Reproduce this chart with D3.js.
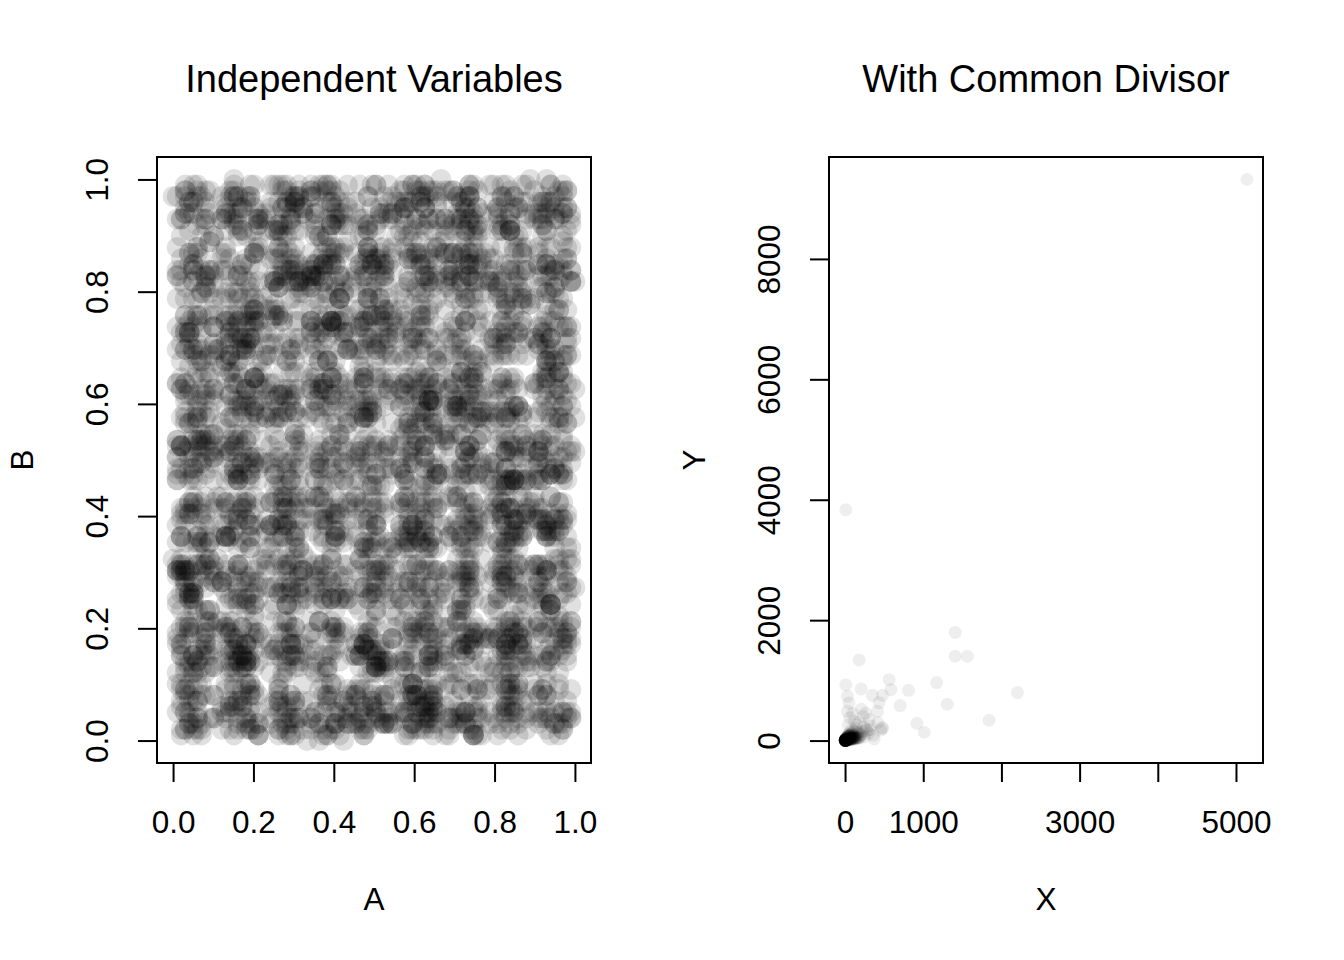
<!DOCTYPE html>
<html>
<head>
<meta charset="utf-8">
<script src="https://cdn.jsdelivr.net/npm/d3@7"></script>
<style>
  body { margin: 0; background: #fff; }
  svg { display: block; }
  text { font-family: "Liberation Sans", Arial, Helvetica, sans-serif; fill: #000; }
</style>
</head>
<body>
<svg id="chart" width="1344" height="960"></svg>
<script>
// ---------------- data ----------------
const panelTitles = ["Independent Variables", "With Common Divisor"];
const xLabels = ["A", "X"];
const yLabels = ["B", "Y"];

const leftXTicks = [0, 0.2, 0.4, 0.6, 0.8, 1.0];
const leftXTickLabels = ["0.0", "0.2", "0.4", "0.6", "0.8", "1.0"];
const leftYTicks = [0, 0.2, 0.4, 0.6, 0.8, 1.0];
const leftYTickLabels = ["0.0", "0.2", "0.4", "0.6", "0.8", "1.0"];

const rightXTicks = [0, 1000, 2000, 3000, 4000, 5000];
const rightXTickLabels = ["0", "1000", "", "3000", "", "5000"];
const rightYTicks = [0, 2000, 4000, 6000, 8000];
const rightYTickLabels = ["0", "2000", "4000", "6000", "8000"];

// Left panel: A and B values, written as two-digit hundredths (00 = 0, 99 = 1)
const A_hundredths = `
7305918264402871359061847329505816742093361850472916803574129658032417960583214776905813274682091735
1948273605583920174662817305948803716295544927108365127039485661924083757301865924468129037558392016
3390572814612847390550681937245873640129954718360223980716457781039462518052673914466380291757914203
8862014573930571648221749083656309187452219654830774928106351503849267183716509248997263104582061937
2409716385574823619047035891262219643875006187342959381470265544716092383106479152807326598413960285
6175302948891462037551028739466534890172214950768331827604591987065321440971836025162840973959718402
4826917035302715948668403127955193820467712864059302654918733078162594485921037466018395742213450968
9053148276611982740354207659183380574192664831902575219406837716938205441059732868204153979637140826
1368024957745910863220639481571986725304409317562855823049716602718459339264078151475923608693481072
5724691083208357416919462037588130496725567029314862915806347444851720963708392615029713684176259034
0489127563936251048766781390425523741869911564038279402785631688079231454162908373195480266817450293
6931570482175048269333815724960974269031582160398475542813706956427190835041762918603248579428061357
2257840193680419536721947362508836170592445903871625139806247471826305942615097843072369185064273981
7740259631849163072558206941739315729804623682451907651037924608847316152097361489435298016721830564
3016497825586273019441935076821759064382931047829561028756943324065918787129083465650834127993572140
8592036147230958147626407395182647381509264015693728483029715466915248073307651982414702639858326071
1673829405744092176389162508437352810697429826340751590764823161459830278243071956935619720848103562
4905716238068753109425736194082581904376153902672848162075309324718506694370821955092463817761540389
6248903571139610752884027365199907516248836259031478354102968745927431086615380724429816573000852619
9187265034576402981317863054291242387590615149236708863950724187032156947204619835671258043926715480
3520781946650396718271957402835168402793559671805243072419863988645217301394862057417036958226107394
7065143892281574906339046172851755862934077108926534643180752919753408162685729140133946758024518603
5839402716016283759447720618395339471580628851046937270852391406638174529910582736445063289127384956
0271659834793016548215846392074661059348327493085216186374925038502619473770316485928749063154620817
8416037295362758140931908542761078234915672046197385514873062922930765148606258913437581926405739261
2783950164945037218670679153482897163250431532860749186025974361174859203259408361726315840977046135
6108724359117849632052341078965643098176215978431026409751386284652038917081729354690463185272591408
4967281530683924057136815397402928450617393201685447936281504715089472631644751028390839172645806713
1354098762254016387946097621853782649103578869150237420631978550314269852297084613560427351989623047
9721436508830695214737164082539506318247951457693082162948715334891706426018452973817536280461094825
3892057146472810693550391846270281974356208604215837995107362843762905184162839750426950184273361908
5046318927109572648366825013794734612095873189364057221856439061508247963932670418559721063845120796
2619804735954381027693017942658167529038412745016398643289175503946278105581394620726403859172138564
8184573062226039518471659370248593104867295032756814097531284666081439752814062597393572108463921705
0753621849387164025935829163704112694857302968410526386104975248530796214397481052667214809365849317
6431970258512857304697105832649226085714396179524083548269713059173826405320967184821649530711058492
1967208543690314875223748961503767302519848052163790912473058634962145870182305679449081273615937460
7290385416148627953039615074283513907826645421079358803716249527650394812274918360638257194093621485
4513860792227395104886380169547941268035719038745216679254803182145983607615037294293806145750268937
3078149265961482507314927350681659704218330591648722046389157606731529048487290561355162903489742016
8251739064418027396552190847361390725846183649205714706158392446382917055219804637391582046671843950
2694081537705318264919847205632485102967341056327891620478359133928467105878032164595410726389241607
5120396847863941705228470163959362817504276019538642308165749701574928360491625087318604293757290318
9437260185328065193710394827562041873695119876430251849603127586216497308362058941745390216836504729
0786143592694213870537618290455703289614658327104936274059813612095834766420739185248371950640159273
3859602471051746839216903574288120467935742968315087561230498379461028554731890265609352174083786142
6013847529982570614381256097345649381027503182495764019872635584736102918850473261914265839077325840
1562937408467319582043795106231896054271638410927353207648915902183475066947518230347096125889614037
7428016935214053768992561480373407962158826794530147861352089457319684020675193248526018347531209864
4971625380680425931766732918450259864317095307416828640591732714692805341398205647780631592402758136
2305784196591862047348146305927760284319563571928406192348705668045139274120637958329716458044362917
8649017325136279580414579263081840563792271096358425530874169237216059843864125730956283071418597602
0194358627742983160575803196452617039248584735206197216083594849318602759602954831728741365093820465
6375820941298630574121974850366349287150134016298573851627049615084371926727309468152958640317204183
3526194078850471362989423705618196304258776582340913027495168634571908224916538074063079852146395071
9087436215263514908736091852474082765913448209657136971342806519840253677351829046284103679852014537
1749208356617032854998736140257928451063390564721879160482735207391864512548301967453862179034685920
5812064739384965120762659830418431709628527403168594281396057468059134726035798214690574281633917406
2468935107923187054681204579362795381046115970824368539072614359216480379681742053827461903548260193
7130659824056294713833946018757105832679462385197046087152349621473968105219537860483915406274178659
4693158702178043256979126350846357902418603916587245724168039281368549710540293186715294068378902514
0827346159652910487348502761938691730425857280316942316807954575403691827482960317559637201846152083
6350918247397426815010739582640428671539061548793215498326071893816742509625183740472058691340987256
1986457302841305769266214095837580493162723679014854012589736642957108346317492860581843072569136029
8214760395569837104247592813061136084957204726359183870416295251630487921698503172464092815736540718
3571092648025619387463028475913864257019568391427650913706428187542930165240816953728165374092986341
9046283715783150492671645972038529716304841230657896294518307436089217543781342695076519803246217059
2738514960416972803558391740652203548697125863014732587064193649751328064062978153406317958247319826
5183209674960341527897215068340871629354036497812554108329675813064527916285430761978924601537480342
0659841327237519086434680957213462093815790154263887361025479026915843708473621905182760349861527094
7392056418584627931016038475920795316284471930528632480571936185720439615019576283494317862053071468
4217693805120843576959716302848530471962638205917416952380743097248561324783195076128560347915263087
8560347129647192058332045869170186253940792346815105387264912764813095728236059814759402186373549201
1902586734385071649247961235083612098457516904728329641758036240375918462597143608284739510652086735
6748013925903264817561852097436970531824275613098442850316975183927460510613842795036571829406419853
3085762149721439605887413560928254978130363108457916927845031609582347186348016592783024961573501278
9613480572046852913730269148573429571603880217694352593016784875014623987192740356152837406928640315
5439127086358097261414826730595761038429029563817478140539621362709518443570619284836154092371728960
2176905348814236709558390427166087524913547602983161739048625204817356997286053412640397581523940687
8024631579467350918216105937485913628074732854091605382716940489126305734915872063379260418545012379
`;
const B_hundredths = `
5619372048813046295177529804136338014957626027341589944681027355093847162012746385938510274659832064
0834917526367209158445961327804172658039119483705267620591374845126083975230741968517496028356109478
9270563814240185736938713602945756391028478362094157315872460919604832751548209173663057194280314629
1456290837798324160567102958346023816574935947102863482957301658390276419874163052271509836477582031
6382701594155739048263946180573280495167326071823954019643875242857316082936570481794028163559462317
3047816259632198057416851374290597184623088423905176261907385431560492738816039275473286904155129683
8791540326049837621582307194658614295038716736480152947510962398821674039536082147965340187226493510
2513687049587016429363495802178130672849542598317604880369214753713495068210274836595461073988125436
7145029863341850792616928407351583907162439806253471270184596632485910327759163804821037925415806274
4698351720082763145998047362519041358627907324819065536812974015176924308381540739267692015348476921
0327964185716408253947715039862268193507414956281730924368150799831462507406519327813478065290153698
9581243076253019468280764185930479260814375631947206181593427862048139567595012743862719460358024173
6204817359830475921664839206157712584039693156840277042786159334920861375918650372417063298541829506
1873560249468914307523591078642359720486130378152469847615903227163854092236948071564081352977460318
5439072816027586193440275318964985316207472849063158360497182561530869247701348259636258197043920584
8062139574315740826998613057428741069253803618972405219037546899461732850053827146932706345981174269
2798416053980237541663479812056127380594265105638917385246091774089315426869150328475314962087733150
4150386927169248305735827064319068412537996481720354927163508342610497583116572930480649781325254097
7386205149521873940605013487266239857104183749201568604831972051795634218848390176253207148596316809
0924751368745630182971468203594381672950527016348936239105847698382750164471028369152895460317489243
6518097432107396258486254710938754031968269381520745791684203351549628073832706591426029374851163580
3247680195954201873161907532468420579316734795064128085372916547108392657610948235702563198074429861
8902364517382145906753748269103197426580523068149735614059287234869027315178253649081475602931680742
1675928304560318742917083594621506284739398724160583241967053878526134097954130826669308145276238015
5031478962217094536826951072843683570914256419386072937850146192043568712865473190254791630284506937
9462813057834562190730289614576217049356881307549261465382709135097821643308914625871546293017728490
2857034169691830257414736982505598216473032074693185802613594876413098527169527403812081756924343619
7109265384026479813557648019236941307582651492836057374098251628659247031480365197258235410976901483
3693517820815046972398210463597072683941544268015739197843605241307586194256802379146612785043389527
0481729653374912860545603971842859461370228501793645630849175296924170358617395208634597026184153972
6725840391928350471631074958263146289507381640573925810364729854071893625463218506797349685210437860
1348906275463728159027159836401780437619526954210378492376518069835106427394681053726801527943665198
8076531924219487306552630491785497038612743817694520076542138935362187049510749286341063892415758201
4251873609780632145986819523704324756180916730948251548931670226195720843868043197521439670582316947
9614027385135760928443952681047805129647320486371590621795348418530267914256794103865120483697372051
2837150946648921530797043859612689314705851293764084837061295572604815379319058246773658291043519684
5190643827906357481232891076354053782196464108937251150392864783571962408704623819594728160354870237
0563298714471862039584620537198136495802779625314086208431957665037849126538197405226194083756941308
7942183560532097614886075392481278910346235367148290593628710448163502975416025839170835746129092546
3418672095887043152697369128504650287139412573904618746015983231940685723087462519058479316205782194
3571849206192374580663058217497428693510254806139778120643952369451708230859627413084735196227465081
8094612573436289075150781942636017548392985237104661940357822715083964607412698355862013947120389654
1426983057872051396424690518731582746093061948527300375819642948605231777219483605963720158443176928
6731508294259387461080328741596463178950218765039245104827365390742168589052463917817640925330581746
4258067193706142839551974603828905472136693214087589217659403652938104761487305926340591628796103852
9803714265138452906734216059878143609527054362819037592806134171568924330629481573085473162091857349
2164895307684321750929503187640526891374917058263424638129570583426170951370648295917925360486412803
7590236418051796342875813604920361784925238649107562905416378848250391676017936254134568217093960574
0345178692926503814667421935083749820156450193728364781650293913947806526839405171268014395742589136
5817940326364285179042178653097210364859883567412095230974618625031498727481029365456097123840813652
3048562917710439568285936041725852940671361280759437145830926297863152040569274318817325609481672035
8612309754245867193039148276501487106329577039182645983216740436015798227506839415328491750662981407
1276845039689241307557603918242694573812103549862718462709153870452139663817204596039578216495320863
6409173825031765948214857230696128390547872643015984031597268552086341797130485262960817453013746918
9357024681564092317878312564093305178249624706198355628430917784109523601846739250751362094827561304
2815690473397351840261970482356748250319059813476282943607185106478932548530164973218697532403185726
7143869025820679314534285916074971836205483162597013670541298453219680776082953417954103782619436850
0592743186153418067298051743626380594721746280315969813026574218736502493948205761372618494057231698
4930518267682714350915760329481157892034320896145722504678913971035481866431927508093756218478102543
1687304952430561928743962817053624970185896350472168172345960350896412734219704836586129473025647891
5024968317079156243868143520796095738142617439280536908214753734620159881520693474218305965739468102
9461823507536028914771690385245872315690244018576393245679018609184372536873025149735481620284917635
2738095164841975302654325610978431069728571286493057160832497465398107228942716305604127839536054279
6195437820209368571438871942065163427950938510247686538109472072651943801357849126423908615759310842
3840617592957142083601492835076928150643780253916414072569831351827046995063128479189467320582674013
8209356147364810925792648701539507361928416493705823958146207241096835713074259168675192384036210597
0576128493812739604565096417283481950726137820564947260395718698473052160582413976034817259451389620
4913782056257405318935872093146726184039563196827402015843796315760924878491630525928306471873045219
7368245901653092874119316548072309467185728751406364893027158546231789500736591842467104985239163087
1052396784498671523072045836917658231907465234908151672948035802916437561984370215135862740996512348
6487120359071538694224937561080815749632391067284583608195247927304815660457283916342615809278136504
2931658407869204135751680429376296013854713854920667429301586140587263938210564779851340627163087452
8105743692342865017930527186944739862510587613029442856017393685421709511739280465207962853418569031
3652089174716930428566839205175051326498920495178331047582964279563810427028615397583419620734912658
9274501638085413967241295873604368957012436820751958391426057512849036783605419278216783542091647305
0719362845637259081426014379582823714596005138694276840593127964302758151926783064352017946382854179
5386910274428076135983957102648649058231771562840393625817409038461572926470391852794301568213609748
1840275936963514820775218694037512093684528497163060198374526782936514039359206471418675329054783102
6093847125284659371050741382965368417920935067214888527096341421709638575143697028609832457168925340
4527136098730298465112689043757794362501864135790326384159072657380412968021539864273065918741506283
`;

// Right panel: X and Y values
const X = [
  1, 3, 0.5, 2, 5, 1, 4, 7, 2, 6, 0.3, 8, 3, 1.2, 9, 4, 2, 11, 5, 0.8,
  6, 3, 1, 7, 10, 2, 12, 4, 0.6, 8, 5, 3, 14, 1, 9, 6, 2, 13, 4, 7,
  15, 3, 10, 1.5, 18, 5, 8, 20, 11, 6, 22, 4, 16, 2, 25, 9, 12, 28, 14, 19,
  35, 30, 45, 18, 50, 60, 40, 70, 25, 80, 55, 90, 65, 100, 38, 110, 75, 120, 130, 95,
  140, 60, 150, 115, 170, 85, 180, 200, 140, 220,
  18, 24, 32, 40, 48, 55, 62, 70, 78, 85, 95, 105, 115, 125, 135,
  22, 30, 38, 46, 58, 66, 74, 88, 98, 108, 12, 16, 26, 34, 44,
  40, 60, 80, 100, 120, 140, 160, 50, 70, 90, 110, 130, 150, 170, 190,
  30, 45, 65, 85, 105, 20, 28, 36, 44, 52,
  160, 210, 240, 280, 150, 320,
  250, 40, 270, 190, 300, 120, 330, 60, 360, 230, 420, 100, 480, 210, 51,
  5140, 10, 1410, 1410, 1564, 179, 9, 30, 205, 350, 479, 564, 586, 812, 705,
  1171, 1308, 2205, 1842, 919, 1013, 414, 457, 372, 30, 308, 265, 474, 436
];
const Y = [
  2, 1, 0.8, 4, 3, 1, 6, 2, 9, 5, 1.5, 4, 7, 0.4, 10, 1, 2, 6, 12, 3,
  1, 3, 5, 8, 3, 1, 9, 4, 0.2, 11, 2, 10, 6, 7, 1, 14, 6, 12, 8, 5,
  3, 15, 10, 2.5, 7, 18, 8, 12, 20, 9, 4, 23, 16, 12, 10, 26, 14, 18, 30, 9,
  12, 40, 20, 45, 35, 15, 55, 30, 65, 50, 70, 25, 90, 45, 95, 70, 110, 30, 95, 130,
  60, 140, 110, 160, 50, 180, 120, 80, 200, 150,
  10, 20, 15, 28, 22, 35, 18, 40, 30, 48, 38, 55, 45, 65, 50,
  8, 12, 25, 18, 42, 28, 60, 35, 75, 52, 20, 30, 38, 55, 70,
  20, 25, 30, 35, 40, 45, 50, 10, 15, 20, 25, 30, 35, 40, 45,
  60, 70, 80, 90, 100, 40, 55, 70, 85, 100,
  140, 100, 220, 160, 260, 180,
  60, 260, 190, 300, 120, 320, 240, 380, 90, 400, 300, 450, 200, 520, 626,
  9320, 3834, 1797, 1400, 1400, 1339, 924, 735, 858, 752, 752, 1012, 846, 835, 581,
  963, 603, 797, 337, 287, 138, 486, 171, 28, 486, 349, 459, 216, 630
];

// ---------------- drawing ----------------
const parseHundredths = s => s.replace(/\s+/g, "").match(/\d\d/g).map(d => +d / 99);
const A = parseHundredths(A_hundredths);
const B = parseHundredths(B_hundredths);
const nLeft = Math.min(A.length, B.length);
const leftPoints = d3.range(nLeft).map(i => [A[i], B[i]]);
const rightPoints = X.map((x, i) => [x, Y[i]]);

const svg = d3.select("#chart");
const FONT = 31.5;

function rPad(ext) {
  const d = (ext[1] - ext[0]) * 0.04;
  return [ext[0] - d, ext[1] + d];
}

function drawPanel(cfg) {
  const { left, right, top, bottom } = cfg.box;
  const x = d3.scaleLinear().domain(rPad(d3.extent(cfg.points, d => d[0]))).range([left, right]);
  const y = d3.scaleLinear().domain(rPad(d3.extent(cfg.points, d => d[1]))).range([bottom, top]);
  const g = svg.append("g");

  const clipId = "clip" + cfg.id;
  svg.append("clipPath").attr("id", clipId)
    .append("rect").attr("x", left).attr("y", top).attr("width", right - left).attr("height", bottom - top);

  g.append("g").attr("clip-path", `url(#${clipId})`)
    .selectAll("circle").data(cfg.points).join("circle")
    .attr("cx", d => x(d[0])).attr("cy", d => y(d[1]))
    .attr("r", cfg.r)
    .attr("fill", "#000").attr("fill-opacity", cfg.alpha);

  // box
  g.append("rect").attr("x", left).attr("y", top)
    .attr("width", right - left).attr("height", bottom - top)
    .attr("fill", "none").attr("stroke", "#000").attr("stroke-width", 2);

  // x axis
  const xa = g.append("g").attr("transform", `translate(0,${bottom})`)
    .call(d3.axisBottom(x).tickValues(cfg.xTicks).tickSize(19).tickSizeOuter(0).tickPadding(29)
      .tickFormat((d, i) => cfg.xTickLabels[i]));
  xa.select(".domain").remove();
  xa.selectAll("line").attr("stroke", "#000").attr("stroke-width", 2);
  xa.selectAll("text").attr("font-size", FONT).attr("fill", "#000");
  xa.attr("font-family", null).attr("font-size", null);

  // y axis
  const ya = g.append("g").attr("transform", `translate(${left},0)`)
    .call(d3.axisLeft(y).tickValues(cfg.yTicks).tickSize(19).tickSizeOuter(0)
      .tickFormat((d, i) => cfg.yTickLabels[i]));
  ya.select(".domain").remove();
  ya.selectAll("line").attr("stroke", "#000").attr("stroke-width", 2);
  ya.selectAll("text")
    .attr("font-size", FONT).attr("fill", "#000")
    .attr("text-anchor", "middle").attr("dy", null)
    .attr("x", 0).attr("y", -49)
    .attr("transform", "rotate(-90)");
  ya.attr("font-family", null).attr("font-size", null);

  // title
  const cx = (left + right) / 2;
  g.append("text").attr("x", cx).attr("y", 92)
    .attr("text-anchor", "middle").attr("font-size", 38).text(cfg.title);

  // axis labels
  g.append("text").attr("x", cx).attr("y", 910)
    .attr("text-anchor", "middle").attr("font-size", FONT).text(cfg.xLabel);
  g.append("text")
    .attr("transform", `translate(${left - 124},${(top + bottom) / 2}) rotate(-90)`)
    .attr("text-anchor", "middle").attr("font-size", FONT).text(cfg.yLabel);
}

drawPanel({
  id: 1,
  box: { left: 157, right: 591, top: 157, bottom: 763 },
  points: leftPoints, r: 10.5, alpha: 0.12,
  xTicks: leftXTicks, xTickLabels: leftXTickLabels,
  yTicks: leftYTicks, yTickLabels: leftYTickLabels,
  title: panelTitles[0], xLabel: xLabels[0], yLabel: yLabels[0]
});

drawPanel({
  id: 2,
  box: { left: 829, right: 1263, top: 157, bottom: 763 },
  points: rightPoints, r: 6.5, alpha: 0.065,
  xTicks: rightXTicks, xTickLabels: rightXTickLabels,
  yTicks: rightYTicks, yTickLabels: rightYTickLabels,
  title: panelTitles[1], xLabel: xLabels[1], yLabel: yLabels[1]
});
</script>
</body>
</html>
